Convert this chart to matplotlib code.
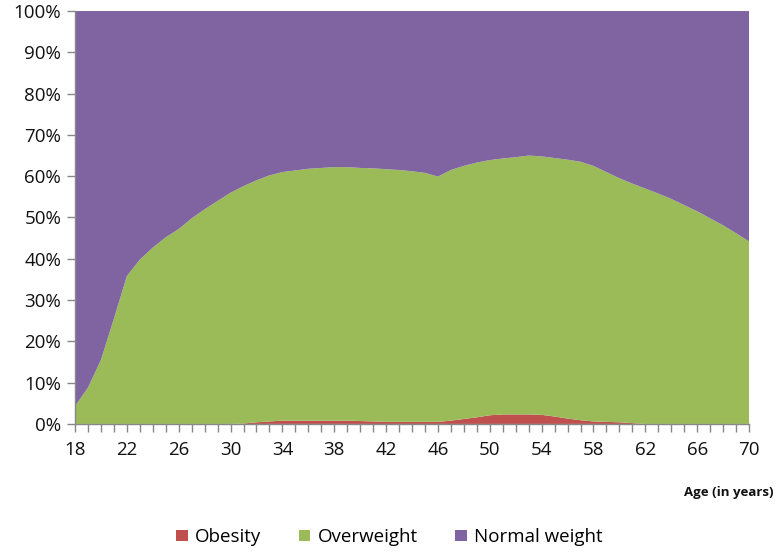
import numpy as np
import matplotlib.pyplot as plt
from matplotlib.ticker import MultipleLocator, FuncFormatter

# Age groups (years)
ages = np.arange(18, 71)

# Share of each weight class (%)
obesity = [0, 0, 0, 0, 0, 0, 0, 0, 0, 0, 0, 0, 0,
           0.1, 0.4, 0.6, 0.8, 0.8, 0.8, 0.8, 0.8, 0.8, 0.7, 0.6,
           0.5, 0.5, 0.5, 0.5, 0.5, 0.8, 1.2, 1.6, 2.1, 2.3, 2.3,
           2.3, 2.2, 1.8, 1.3, 0.9, 0.6, 0.5, 0.4, 0.2,
           0, 0, 0, 0, 0, 0, 0, 0, 0]
overweight = [4.3, 8.8, 15.5, 25.5, 35.8, 39.8, 42.7, 45.2, 47.2, 49.8,
              52.0, 54.0, 56.0, 57.5, 58.6, 59.6, 60.2, 60.6, 61.0, 61.2,
              61.4, 61.4, 61.3, 61.3, 61.2, 61.0, 60.7, 60.3, 59.4, 60.7,
              61.3, 61.7, 61.8, 62.0, 62.3, 62.7, 62.6, 62.6, 62.7, 62.6,
              61.9, 60.5, 59.1, 58.0, 57.0, 55.8, 54.5, 53.0, 51.5, 49.8,
              48.1, 46.2, 44.2]
normal = [95.7, 91.2, 84.5, 74.5, 64.2, 60.2, 57.3, 54.8, 52.8, 50.2,
          48.0, 46.0, 44.0, 42.4, 41.0, 39.8, 39.0, 38.6, 38.2, 38.0,
          37.8, 37.8, 38.0, 38.1, 38.3, 38.5, 38.8, 39.2, 40.1, 38.5,
          37.5, 36.7, 36.1, 35.7, 35.4, 35.0, 35.2, 35.6, 36.0, 36.5,
          37.5, 39.0, 40.5, 41.8, 43.0, 44.2, 45.5, 47.0, 48.5, 50.2,
          51.9, 53.8, 55.8]

age_ticks = list(range(18, 71, 4))
labels = ['Obesity', 'Overweight', 'Normal weight']
colors = ['#C0504D', '#9BBB59', '#8064A2']

plt.rcParams['font.family'] = ['Open Sans', 'DejaVu Sans']

data = np.array([obesity, overweight, normal], dtype=float)
data = data / data.sum(axis=0)

fig = plt.figure(figsize=(7.79, 5.52), dpi=100)
ax = fig.add_axes([0.0963, 0.232, 0.8652, 0.748])

ax.stackplot(ages, data, colors=colors, labels=labels, linewidth=0)

ax.set_xlim(18, 70)
ax.set_ylim(0, 1)
ax.set_xticks(age_ticks)
ax.xaxis.set_minor_locator(MultipleLocator(1))
ax.yaxis.set_major_locator(MultipleLocator(0.1))
ax.yaxis.set_major_formatter(FuncFormatter(lambda v, p: f"{v * 100:.0f}%"))

for s in ['top', 'right']:
    ax.spines[s].set_visible(False)
for s in ['left', 'bottom']:
    ax.spines[s].set_color('#888888')
    ax.spines[s].set_linewidth(1)

ax.tick_params(axis='both', which='both', direction='out', color='#888888',
               length=6, width=1, labelsize=13.5, labelcolor='#111111')
ax.tick_params(axis='x', which='major', pad=6)
ax.tick_params(axis='y', which='major', pad=4)

fig.text(0.993, 0.107, 'Age (in years)', ha='right', va='center',
         fontsize=9.5, fontweight='bold', color='#111111')

handles, lbls = ax.get_legend_handles_labels()
fig.legend(handles, lbls, loc='center', bbox_to_anchor=(0.5, 0.027), ncol=3,
           frameon=False, fontsize=13.5, handlelength=0.6, handleheight=0.6,
           handletextpad=0.4, columnspacing=2.0)

fig.savefig('out.png', dpi=100)
